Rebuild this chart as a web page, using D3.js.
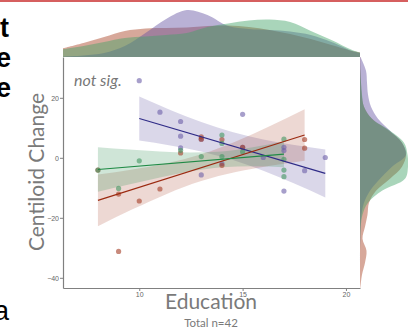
<!DOCTYPE html>
<html><head><meta charset="utf-8">
<script src="https://cdn.jsdelivr.net/npm/d3@7"></script>
<style>body{margin:0;background:#fff;overflow:hidden}svg{display:block}</style>
</head><body>
<script>
// ---------- data ----------
const eduTicks = [10, 15, 20];
const clTicks = [-40, -20, 0, 20];

const purpleEdu = [10, 11, 12, 12, 12, 13, 13, 14, 15, 15, 16, 17, 17, 17, 18, 19];
const purpleCL  = [25.7, 15.2, 12.1, 7.2, 3.3, 6.2, -5.7, -1.9, 14.5, 3.5, 0.1, 3.5, 2.4, -11.1, -4.3, 0.1];
const redEdu = [8, 9, 9, 10, 11, 12, 13, 13, 14, 14, 15, 18, 18];
const redCL  = [-4.1, -12.1, -31.2, -14.4, -10.4, 1.6, 6.2, 7.0, 6.1, -2.5, 3.5, 6.1, 3.2];
const greenEdu = [8, 9, 10, 12, 13, 14, 14, 14, 17, 17, 17, 17, 15];
const greenCL  = [-4.1, -10.2, -1.0, 2.5, 0.4, 7.6, 4.8, 0.4, 6.2, -0.5, -4.1, -6.3, 2.0];

// fitted lines (endpoints) and confidence bands
const purpleFitEdu = [10, 19], purpleFitCL = [13.1, -5.2];
const redFitEdu = [8, 18], redFitCL = [-14.2, 7.6];
const greenFitEdu = [8, 17], greenFitCL = [-3.9, 1.2];

const purpleBandEdu = [10, 11.5, 13, 14.5, 16, 17.5, 19];
const purpleBandHi  = [20.45, 15.96, 11.9, 8.59, 6.13, 4.29, 2.8];
const purpleBandLo  = [5.75, 4.14, 2.1, -0.69, -4.33, -8.59, -13.2];
const redBandEdu = [8, 9.67, 11.33, 13, 14.67, 16.33, 18];
const redBandHi  = [-5.6, -3.93, -1.84, 1.17, 5.44, 10.59, 16.2];
const redBandLo  = [-22.8, -17.19, -12.04, -7.77, -4.76, -2.67, -1.0];
const greenBandEdu = [8, 9.5, 11, 12.5, 14, 15.5, 17];
const greenBandHi  = [3.5, 2.77, 2.14, 1.8, 2.13, 3.5, 5.54];
const greenBandLo  = [-11.3, -8.87, -6.54, -4.5, -3.13, -2.8, -3.14];

// marginal densities
const topGridEdu = [6.31, 7.3, 8.3, 9.3, 10.3, 11.3, 12.3, 13.3, 14.3, 15.3, 16.3, 17.3, 18.3, 19.3, 20.3, 20.68];
const redTopDens    = [0.035,0.056,0.080,0.104,0.114,0.116,0.118,0.124,0.126,0.120,0.108,0.092,0.072,0.048,0.024,0.018];
const purpleTopDens = [0.002,0.006,0.016,0.044,0.096,0.152,0.188,0.168,0.124,0.112,0.108,0.102,0.088,0.060,0.024,0.016];
const greenTopDens  = [0.031,0.044,0.060,0.076,0.082,0.088,0.096,0.120,0.134,0.146,0.150,0.140,0.104,0.068,0.028,0.018];

const rightGridCL = [33.6, 29, 25, 21, 17, 13, 9, 5, 1, -3, -7, -11, -15, -19, -23, -27, -31, -35, -39, -43.4];
const purpleRightDens = [0.002,0.024,0.028,0.032,0.044,0.072,0.120,0.168,0.184,0.128,0.080,0.040,0.016,0.006,0.002,0.001,0,0,0,0];
const redRightDens    = [0.001,0.002,0.004,0.007,0.016,0.048,0.116,0.168,0.184,0.168,0.120,0.064,0.036,0.030,0.020,0.010,0.026,0.020,0.008,0.001];
const greenRightDens  = [0,0.001,0.004,0.008,0.016,0.048,0.120,0.176,0.190,0.192,0.180,0.088,0.032,0.010,0.003,0.001,0,0,0,0];

// ---------- drawing ----------
(function draw() {
const W = 408, H = 329;
const svg = d3.select("body").append("svg").attr("width", W).attr("height", H);

const pL = 63, pR = 360, pT = 57, pB = 288;
const x = d3.scaleLinear().domain([6.31, 20.68]).range([pL, pR]);
const y = d3.scaleLinear().domain([-43.4, 33.6]).range([pB, pT]);
const dens = d3.scaleLinear().domain([0, 0.2]).range([0, 50]);

const col = {
  purple: {base: "#6c5fa8", line: "#2f2b87", dens: "#6452a2"},
  red:    {base: "#a33c25", line: "#9b2a10", dens: "#a63e1f"},
  green:  {base: "#419661", line: "#1f8a45", dens: "#40a266"}
};

svg.append("rect").attr("x", 0).attr("y", 0).attr("width", W).attr("height", 2).attr("fill", "#d65f5f");

const frag = svg.append("g").attr("font-family", "Liberation Sans, Arial, sans-serif").attr("fill", "#000").attr("text-anchor", "end");
frag.append("text").attr("x", 9).attr("y", 37).attr("font-size", 27).attr("font-weight", "bold").text("t");
frag.append("text").attr("x", 11).attr("y", 67).attr("font-size", 27).attr("font-weight", "bold").text("e");
frag.append("text").attr("x", 11).attr("y", 97).attr("font-size", 27).attr("font-weight", "bold").text("e");
frag.append("text").attr("x", 9).attr("y", 320).attr("font-size", 27).text("a");

const topArea = d3.area().x((d, i) => x(topGridEdu[i])).y0(pT).y1(d => pT - dens(d)).curve(d3.curveCatmullRom);
[[redTopDens, col.red], [purpleTopDens, col.purple], [greenTopDens, col.green]].forEach(([arr, c]) => {
  svg.append("path").attr("d", topArea(arr)).attr("fill", c.dens).attr("fill-opacity", 0.45);
});
const rightArea = d3.area().y((d, i) => y(rightGridCL[i])).x0(pR).x1(d => pR + dens(d)).curve(d3.curveCatmullRom);
[[redRightDens, col.red], [purpleRightDens, col.purple], [greenRightDens, col.green]].forEach(([arr, c]) => {
  svg.append("path").attr("d", rightArea(arr)).attr("fill", c.dens).attr("fill-opacity", 0.45);
});

const band = (ed, lo, hi) => d3.area().x((d, i) => x(ed[i])).y0((d, i) => y(lo[i])).y1((d, i) => y(hi[i])).curve(d3.curveMonotoneX)(ed);
svg.append("path").attr("d", band(purpleBandEdu, purpleBandLo, purpleBandHi)).attr("fill", col.purple.base).attr("fill-opacity", 0.25);
svg.append("path").attr("d", band(redBandEdu, redBandLo, redBandHi)).attr("fill", col.red.base).attr("fill-opacity", 0.2);
svg.append("path").attr("d", band(greenBandEdu, greenBandLo, greenBandHi)).attr("fill", col.green.base).attr("fill-opacity", 0.25);

const pts = (ed, cl, c) => svg.append("g").selectAll("circle").data(ed).join("circle")
  .attr("cx", (d) => x(d)).attr("cy", (d, i) => y(cl[i])).attr("r", 2.6)
  .attr("fill", c.base).attr("fill-opacity", 0.6);
pts(purpleEdu, purpleCL, col.purple);
pts(redEdu, redCL, col.red);
pts(greenEdu, greenCL, col.green);

const fit = (ed, cl, c) => svg.append("line")
  .attr("x1", x(ed[0])).attr("y1", y(cl[0])).attr("x2", x(ed[1])).attr("y2", y(cl[1]))
  .attr("stroke", c.line).attr("stroke-width", 1.2);
fit(purpleFitEdu, purpleFitCL, col.purple);
fit(redFitEdu, redFitCL, col.red);
fit(greenFitEdu, greenFitCL, col.green);

const ax = d3.axisBottom(x).tickValues(eduTicks).tickSize(3).tickSizeOuter(0).tickPadding(1);
const ay = d3.axisLeft(y).tickValues(clTicks).tickSize(3).tickSizeOuter(0).tickPadding(1);
const gx = svg.append("g").attr("transform", `translate(0,${pB})`).call(ax);
const gy = svg.append("g").attr("transform", `translate(${pL},0)`).call(ay);
[gx, gy].forEach(g => {
  g.select(".domain").attr("stroke", "#808080").attr("stroke-width", 1.2);
  g.selectAll(".tick line").attr("stroke", "#808080");
  g.selectAll(".tick text").attr("fill", "#666").attr("font-size", 7).attr("font-family", "Liberation Sans, Arial, sans-serif");
});

const tf = "Lato, 'Open Sans', sans-serif";
svg.append("text").attr("x", 211).attr("y", 309).attr("text-anchor", "middle").attr("font-family", tf)
  .attr("font-size", 21).attr("fill", "#7a7a7a").text("Education");
svg.append("text").attr("x", 211).attr("y", 327).attr("text-anchor", "middle").attr("font-family", tf)
  .attr("font-size", 11.5).attr("fill", "#7a7a7a").text("Total n=42");
svg.append("text").attr("transform", "translate(44,172) rotate(-90)").attr("text-anchor", "middle").attr("font-family", tf)
  .attr("font-size", 21).attr("fill", "#7a7a7a").text("Centiloid Change");
svg.append("text").attr("x", 74).attr("y", 86).attr("font-family", tf).attr("font-style", "italic")
  .attr("font-size", 16).attr("fill", "#777").text("not sig.");
})();
</script>
</body></html>
